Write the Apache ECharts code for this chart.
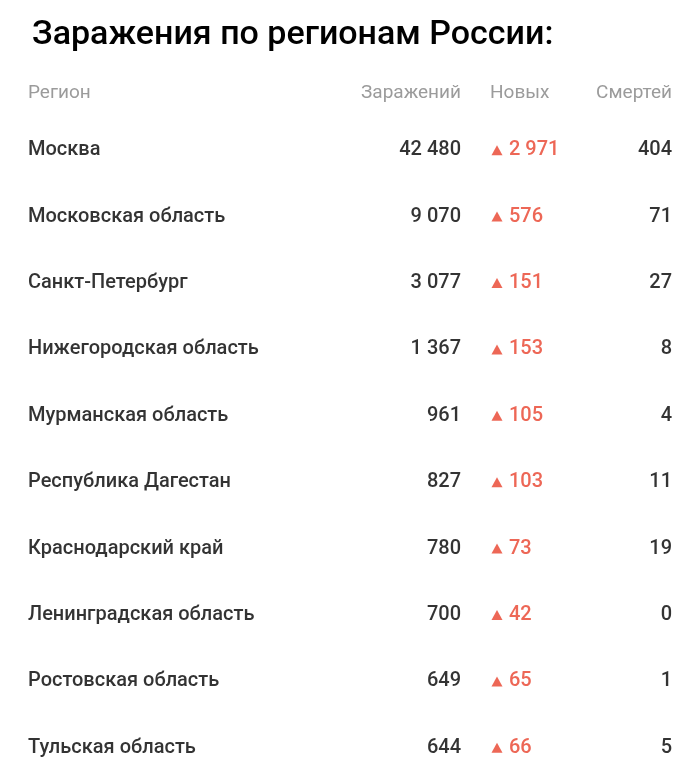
<!DOCTYPE html><html><head><meta charset="utf-8">
<script src="https://cdn.jsdelivr.net/npm/echarts@6/dist/echarts.min.js"></script>
<style>html,body{margin:0;background:#fff}#c{width:700px;height:781px}</style></head><body><div id="c"></div>
<script>
const regions=["Москва","Московская область","Санкт-Петербург","Нижегородская область","Мурманская область","Республика Дагестан","Краснодарский край","Ленинградская область","Ростовская область","Тульская область"];
const infected=["42 480","9 070","3 077","1 367","961","827","780","700","649","644"];
const newCases=["2 971","576","151","153","105","103","73","42","65","66"];
const deaths=["404","71","27","8","4","11","19","0","1","5"];
const headers=["Регион","Заражений","Новых","Смертей"];
const F='Roboto, "Open Sans", sans-serif';
const c=echarts.init(document.getElementById('c'));
function textSeries(vals,x,align,color){
 return {type:'scatter',symbolSize:0,silent:true,data:vals.map((v,i)=>[x,i,v]),
  label:{show:true,position:'inside',formatter:p=>p.data[2],align:align,color:color,textBorderWidth:0,fontFamily:F,fontSize:20,fontWeight:500}};
}
c.setOption({animation:false,
 title:{text:'Заражения по регионам России:',left:27,top:13,textStyle:{fontFamily:F,fontSize:34,fontWeight:500,color:'#000'}},
 grid:{left:0,right:0,top:117,height:684},
 xAxis:{type:'value',min:0,max:700,show:false},
 yAxis:{type:'category',data:regions,inverse:true,show:false},
 graphic:[
  {type:'text',left:28,top:84,style:{text:headers[0],fill:'#9b9b9b',font:'400 19px '+F}},
  {type:'text',right:239,top:84,style:{text:headers[1],fill:'#9b9b9b',font:'400 19px '+F}},
  {type:'text',left:490,top:84,style:{text:headers[2],fill:'#9b9b9b',font:'400 19px '+F}},
  {type:'text',right:28,top:84,style:{text:headers[3],fill:'#9b9b9b',font:'400 19px '+F}}
 ],
 series:[
  textSeries(regions,28,'left','#000'),
  textSeries(infected,461,'right','#000'),
  {type:'scatter',symbol:'triangle',symbolSize:[11,10],silent:true,itemStyle:{color:'#e8412c'},data:regions.map((r,i)=>[497,i])},
  textSeries(newCases,509,'left','#e8412c'),
  textSeries(deaths,672,'right','#000')
 ]});
</script></body></html>
